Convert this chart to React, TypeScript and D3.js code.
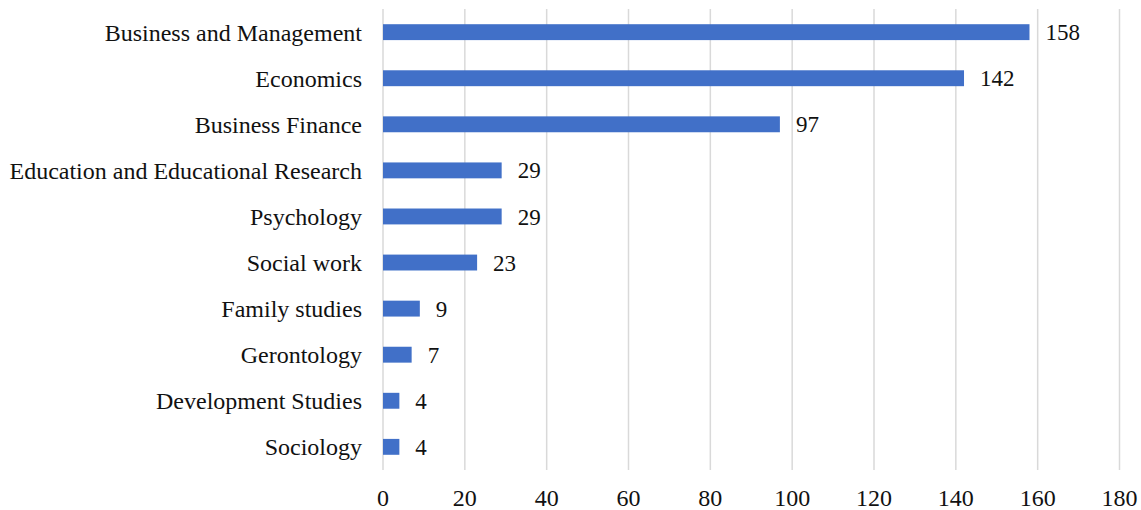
import React from "react";
import * as d3 from "d3";

const categories = [
  "Business and Management",
  "Economics",
  "Business Finance",
  "Education and Educational Research",
  "Psychology",
  "Social work ",
  "Family studies",
  "Gerontology",
  "Development Studies",
  "Sociology",
];
const values = [158, 142, 97, 29, 29, 23, 9, 7, 4, 4];
const xTicks = [0, 20, 40, 60, 80, 100, 120, 140, 160, 180];

const W = 1141;
const H = 510;
const FONT = "'Liberation Serif', 'Times New Roman', serif";

export default function App() {
  const x = d3.scaleLinear().domain([0, 180]).range([383, 1119.5]);
  const y = d3.scaleBand<string>().domain(categories).range([9, 470]).paddingInner(0.655).paddingOuter(0.33);
  const bw = y.bandwidth();
  return (
    <svg width={W} height={H} style={{ position: "absolute", left: 0, top: 0, background: "#fff" }}>
      <rect x={0} y={0} width={W} height={H} fill="#fff" />
      {xTicks.map((t) => (
        <line key={"g" + t} x1={x(t)} x2={x(t)} y1={9} y2={470} stroke="#d9d9d9" strokeWidth={1.5} />
      ))}
      {xTicks.map((t) => (
        <text key={"t" + t} x={x(t)} y={506} textAnchor="middle" fontFamily={FONT} fontSize={24} fill="#111">
          {t}
        </text>
      ))}
      {categories.map((c, i) => {
        const yc = (y(c) as number) + bw / 2;
        return (
          <g key={c}>
            <rect x={x(0)} y={y(c)} width={x(values[i]) - x(0)} height={bw} fill="#4170c8" />
            <text x={362} y={yc} dy="0.35em" textAnchor="end" fontFamily={FONT} fontSize={24} fill="#111">
              {c}
            </text>
            <text x={x(values[i]) + 16} y={yc} dy="0.35em" fontFamily={FONT} fontSize={23} fill="#111">
              {values[i]}
            </text>
          </g>
        );
      })}
    </svg>
  );
}
